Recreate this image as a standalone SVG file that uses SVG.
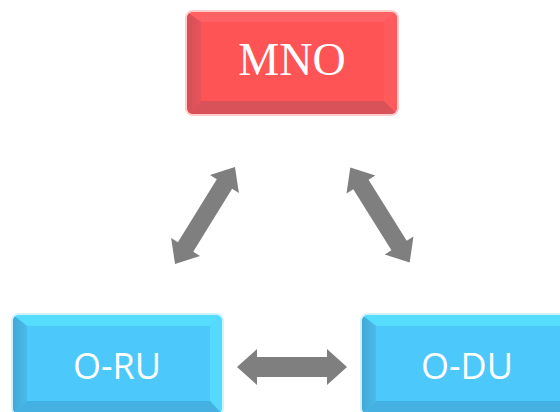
<svg xmlns="http://www.w3.org/2000/svg" width="560" height="412" viewBox="0 0 560 412">
<defs>
<style>
.arrow{fill:#7f7f7f}
.lbl-serif{font-family:"Liberation Serif","Times New Roman",serif;fill:#ffffff;text-anchor:middle}
.lbl-sans{font-family:"Open Sans","Noto Sans",sans-serif;fill:#ffffff;text-anchor:middle}
</style>
<linearGradient id="gL-red" x1="0" y1="0" x2="1" y2="0"><stop offset="0" stop-color="#d44f58"/><stop offset="1" stop-color="#e8545c"/></linearGradient>
<linearGradient id="gL-blue" x1="0" y1="0" x2="1" y2="0"><stop offset="0" stop-color="#42a8d8"/><stop offset="1" stop-color="#4abbe9"/></linearGradient>
<clipPath id="cMNO"><rect x="187" y="12" width="210" height="102" rx="6"/></clipPath>
<clipPath id="cRU"><rect x="13" y="315" width="209" height="99" rx="6"/></clipPath>
<clipPath id="cDU"><rect x="362" y="315" width="210" height="99" rx="6"/></clipPath>
</defs>
<rect width="560" height="412" fill="#ffffff"/>

<g id="node-mno">
<rect x="186" y="11" width="212" height="104" rx="7" fill="none" stroke="#ff9a9a" stroke-opacity="0.5" stroke-width="2"/>
<g clip-path="url(#cMNO)">
<rect x="187" y="12" width="210" height="102" fill="#ff5456"/>
<polygon points="187,12 397,12 384,22 201,22" fill="#ff6264"/>
<polygon points="187,12 201,22 201,101 187,114" fill="url(#gL-red)"/>
<polygon points="397,12 397,114 384,101 384,22" fill="#ff5b5d"/>
<polygon points="187,114 201,101 384,101 397,114" fill="#d9525a"/>
</g>
<text class="lbl-serif" x="292" y="75" font-size="46">MNO</text>
</g>

<g id="node-oru">
<rect x="12" y="314" width="211" height="101" rx="7" fill="none" stroke="#9ee6ff" stroke-opacity="0.5" stroke-width="2"/>
<g clip-path="url(#cRU)">
<rect x="13" y="315" width="209" height="99" fill="#4dc8fa"/>
<polygon points="13,315 222,315 210,326 27,326" fill="#56dcff"/>
<polygon points="13,315 27,326 27,401 13,414" fill="url(#gL-blue)"/>
<polygon points="222,315 222,414 210,401 210,326" fill="#56d9ff"/>
<polygon points="13,414 27,401 210,401 222,414" fill="#45b0e2"/>
</g>
<text class="lbl-sans" x="117" y="379" font-size="36">O-RU</text>
</g>

<g id="node-odu">
<rect x="361" y="314" width="212" height="101" rx="7" fill="none" stroke="#9ee6ff" stroke-opacity="0.5" stroke-width="2"/>
<g clip-path="url(#cDU)">
<rect x="362" y="315" width="210" height="99" fill="#4dc8fa"/>
<polygon points="362,315 572,315 560,326 376,326" fill="#56dcff"/>
<polygon points="362,315 376,326 376,401 362,414" fill="url(#gL-blue)"/>
<polygon points="572,315 572,414 560,401 560,326" fill="#56d9ff"/>
<polygon points="362,414 376,401 560,401 572,414" fill="#45b0e2"/>
</g>
<text class="lbl-sans" x="467" y="379" font-size="36">O-DU</text>
</g>

<g id="connectors">
<path class="arrow" transform="translate(205,215.5) rotate(-58.3)" d="M-57,0 L-37,-17 L-37,-9 L37,-9 L37,-17 L57,0 L37,17 L37,9 L-37,9 L-37,17 Z"/>
<path class="arrow" transform="translate(380,215) rotate(58)" d="M-56,0 L-36,-17 L-36,-9 L36,-9 L36,-17 L56,0 L36,17 L36,9 L-36,9 L-36,17 Z"/>
<path class="arrow" transform="translate(292,367)" d="M-55,0 L-35,-18 L-35,-10 L35,-10 L35,-18 L55,0 L35,18 L35,10 L-35,10 L-35,18 Z"/>
</g>
</svg>
